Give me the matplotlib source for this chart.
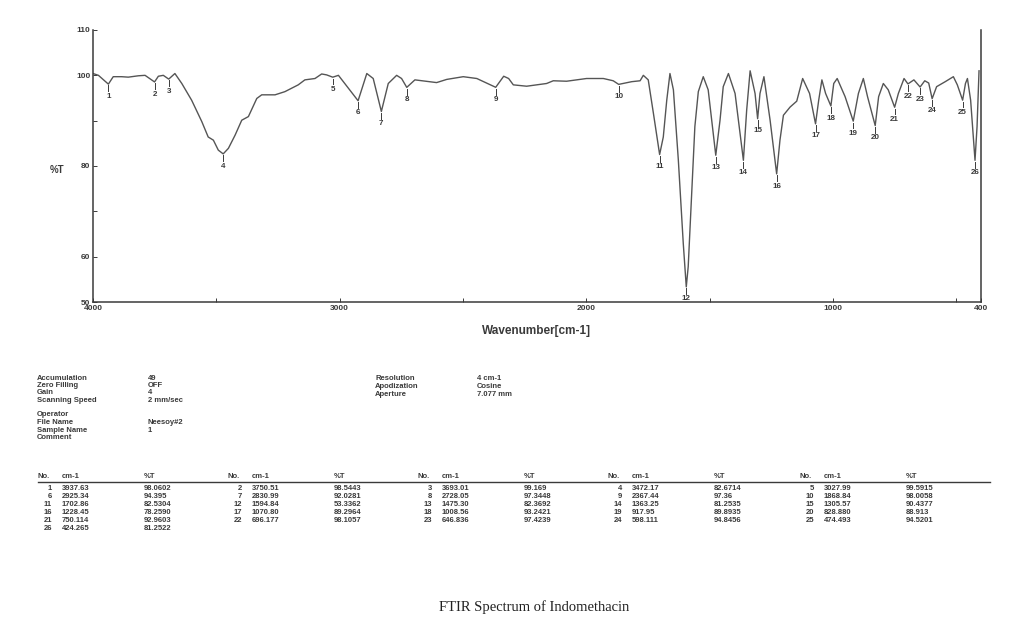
import matplotlib
matplotlib.use("Agg")
import matplotlib.pyplot as plt
from matplotlib.ticker import FixedLocator

W, H = 1014, 630

# peak table (No., cm-1, %T) as printed under the spectrum
peak_no = list(range(1, 27))
peak_wn_txt = ["3937.63", "3750.51", "3693.01", "3472.17", "3027.99",
               "2925.34", "2830.99", "2728.05", "2367.44", "1868.84",
               "1702.86", "1594.84", "1475.30", "1363.25", "1305.57",
               "1228.45", "1070.80", "1008.56", "917.95", "828.880",
               "750.114", "696.177", "646.836", "598.111", "474.493",
               "424.265"]
peak_t_txt = ["98.0602", "98.5443", "99.169", "82.6714", "99.5915",
              "94.395", "92.0281", "97.3448", "97.36", "98.0058",
              "82.5304", "53.3362", "82.3692", "81.2535", "90.4377",
              "78.2590", "89.2964", "93.2421", "89.8935", "88.913",
              "92.9603", "98.1057", "97.4239", "94.8456", "94.5201",
              "81.2522"]
peak_wn = [float(s) for s in peak_wn_txt]
peak_t = [float(s) for s in peak_t_txt]

# spectrum vertices between the labelled peaks
trace_wn = [4000, 3978, 3918, 3884, 3857, 3816, 3789, 3735, 3715, 3668,
            3640, 3600, 3559, 3533, 3512, 3492, 3451, 3424, 3397, 3370,
            3336, 3316, 3262, 3222, 3168, 3141, 3100, 3073, 3053, 3005,
            2890, 2864, 2803, 2769, 2749, 2695, 2634, 2607, 2566, 2499,
            2444, 2335, 2315, 2296, 2242, 2161, 2134, 2080, 1999, 1931,
            1891, 1816, 1782, 1769, 1749, 1728, 1688, 1674, 1661, 1647,
            1627, 1607, 1587, 1573, 1560, 1546, 1526, 1506, 1458, 1445,
            1424, 1397, 1350, 1336, 1316, 1296, 1280, 1255, 1215, 1201,
            1174, 1147, 1123, 1095, 1058, 1045, 1030, 997, 983, 951,
            897, 877, 860, 815, 796, 776, 735, 712, 672, 628,
            612, 580, 545, 512, 496, 463, 455, 442, 416, 408]
trace_t = [100.4, 100.0, 99.7, 99.7, 99.6, 99.9, 100.0, 99.8, 100.0, 100.4,
           98.2, 94.5, 89.8, 86.4, 85.7, 83.5, 83.9, 86.8, 90.1, 90.9,
           94.9, 95.7, 95.7, 96.4, 97.9, 99.0, 99.3, 100.3, 100.1, 100.0,
           100.4, 99.3, 98.2, 100.0, 99.3, 99.0, 98.6, 98.4, 99.1, 99.7,
           99.3, 99.8, 99.3, 97.9, 97.6, 98.2, 98.8, 98.7, 99.3, 99.3,
           98.8, 98.6, 98.8, 100.0, 99.0, 91.6, 86.4, 94.5, 100.4, 96.8,
           81.3, 62.9, 57.8, 73.9, 88.7, 96.4, 99.7, 96.8, 90.1, 97.5,
           100.4, 96.0, 92.3, 101.0, 96.0, 96.0, 99.7, 90.1, 85.7, 91.2,
           93.0, 94.3, 99.3, 96.0, 94.5, 99.0, 96.0, 98.2, 99.3, 95.3,
           96.0, 99.3, 95.3, 95.3, 98.2, 96.8, 96.0, 99.3, 99.0, 98.8,
           98.3, 97.5, 98.6, 99.7, 97.9, 98.2, 99.3, 94.5, 88.7, 101.0]

pts = sorted(zip(trace_wn + peak_wn, trace_t + peak_t), reverse=True)
spec_wn = [p[0] for p in pts]
spec_t = [p[1] for p in pts]

x_major = [4000, 3000, 2000, 1000, 400]
x_minor = [3500, 2500, 1500, 500]
y_major = [50, 60, 80, 100, 110]
y_minor = [70, 90]

left_names = ["Accumulation", "Zero Filling", "Gain", "Scanning Speed"]
left_values = ["49", "OFF", "4", "2 mm/sec"]
op_names = ["Operator", "File Name", "Sample Name", "Comment"]
op_values = ["", "Neesoy#2", "1", ""]
mid_names = ["Resolution", "Apodization", "Aperture"]
mid_values = ["4 cm-1", "Cosine", "7.077 mm"]

ink = "#3a3a3a"
sans = ["Liberation Sans", "DejaVu Sans"]


def fx(px):
    return px / W


def fy(py):
    return 1 - py / H


fig = plt.figure(figsize=(W / 100, H / 100), dpi=100)
ax = fig.add_axes([fx(93), fy(302), fx(981 - 93), (302 - 30) / H])

ax.plot(spec_wn, spec_t, color="#555555", lw=1.0)
ax.set_xlim(4000, 400)
ax.set_ylim(50, 110)

for n, wn, t in zip(peak_no, peak_wn, peak_t):
    ax.plot([wn, wn], [t - 0.3, t - 1.6], color=ink, lw=0.7)
    ax.text(wn, t - 1.9, str(n), ha="center", va="top", fontsize=5.8,
            color=ink, family=sans, fontweight="bold")

ax.xaxis.set_major_locator(FixedLocator(x_major))
ax.xaxis.set_minor_locator(FixedLocator(x_minor))
ax.yaxis.set_major_locator(FixedLocator(y_major))
ax.yaxis.set_minor_locator(FixedLocator(y_minor))
ax.set_xticklabels([str(v) for v in x_major])
ax.set_yticklabels([str(v) for v in y_major])
ax.tick_params(which="both", direction="in", length=3, width=0.7, colors=ink,
               labelsize=6)
ax.tick_params(axis="x", pad=2)
ax.tick_params(axis="y", pad=2)
for lab in ax.get_xticklabels() + ax.get_yticklabels():
    lab.set_family(sans)
    lab.set_fontweight("bold")
ax.spines["top"].set_visible(False)
for s in ["left", "bottom", "right"]:
    ax.spines[s].set_color(ink)
    ax.spines[s].set_linewidth(1.1)

fig.text(fx(536), fy(331), "Wavenumber[cm-1]", ha="center", va="center",
         fontsize=8.5, fontweight="bold", family=sans, color=ink)
fig.text(fx(57), fy(170), "%T", ha="center", va="center", fontsize=7,
         fontweight="bold", family=sans, color=ink)

# measurement parameters
small = dict(fontsize=5.5, fontweight="bold", family=sans, color=ink,
             va="center", ha="left")
dy = 7.5
for i, (a, b) in enumerate(zip(left_names, left_values)):
    fig.text(fx(37), fy(378 + i * dy), a, **small)
    fig.text(fx(148), fy(378 + i * dy), b, **small)
for i, (a, b) in enumerate(zip(op_names, op_values)):
    fig.text(fx(37), fy(415 + i * dy), a, **small)
    fig.text(fx(148), fy(415 + i * dy), b, **small)
for i, (a, b) in enumerate(zip(mid_names, mid_values)):
    fig.text(fx(375), fy(379 + i * dy), a, **small)
    fig.text(fx(477), fy(379 + i * dy), b, **small)

# peak table
group_x = [38, 228, 418, 608, 800]
head_y = 476.5
row0 = 489
row_dy = 8
for gx in group_x:
    fig.text(fx(gx), fy(head_y), "No.", **small)
    fig.text(fx(gx + 24), fy(head_y), "cm-1", **small)
    fig.text(fx(gx + 106), fy(head_y), "%T", **small)
fig.add_artist(plt.Line2D([fx(38), fx(990)], [fy(481.5), fy(481.5)],
                          color=ink, lw=1.0))
cell = dict(small)
for k, (n, wtxt, ttxt) in enumerate(zip(peak_no, peak_wn_txt, peak_t_txt)):
    r, g = divmod(k, 5)
    gx = group_x[g]
    yy = fy(row0 + r * row_dy)
    cell["ha"] = "right"
    fig.text(fx(gx + 14), yy, str(n), **cell)
    cell["ha"] = "left"
    fig.text(fx(gx + 24), yy, wtxt, **cell)
    fig.text(fx(gx + 106), yy, ttxt, **cell)

fig.text(fx(534), fy(607), "FTIR Spectrum of Indomethacin", ha="center",
         va="center", fontsize=10.5, family=["Liberation Serif", "DejaVu Serif"],
         color="#222222")

fig.savefig("out.png", dpi=100, facecolor="white")
